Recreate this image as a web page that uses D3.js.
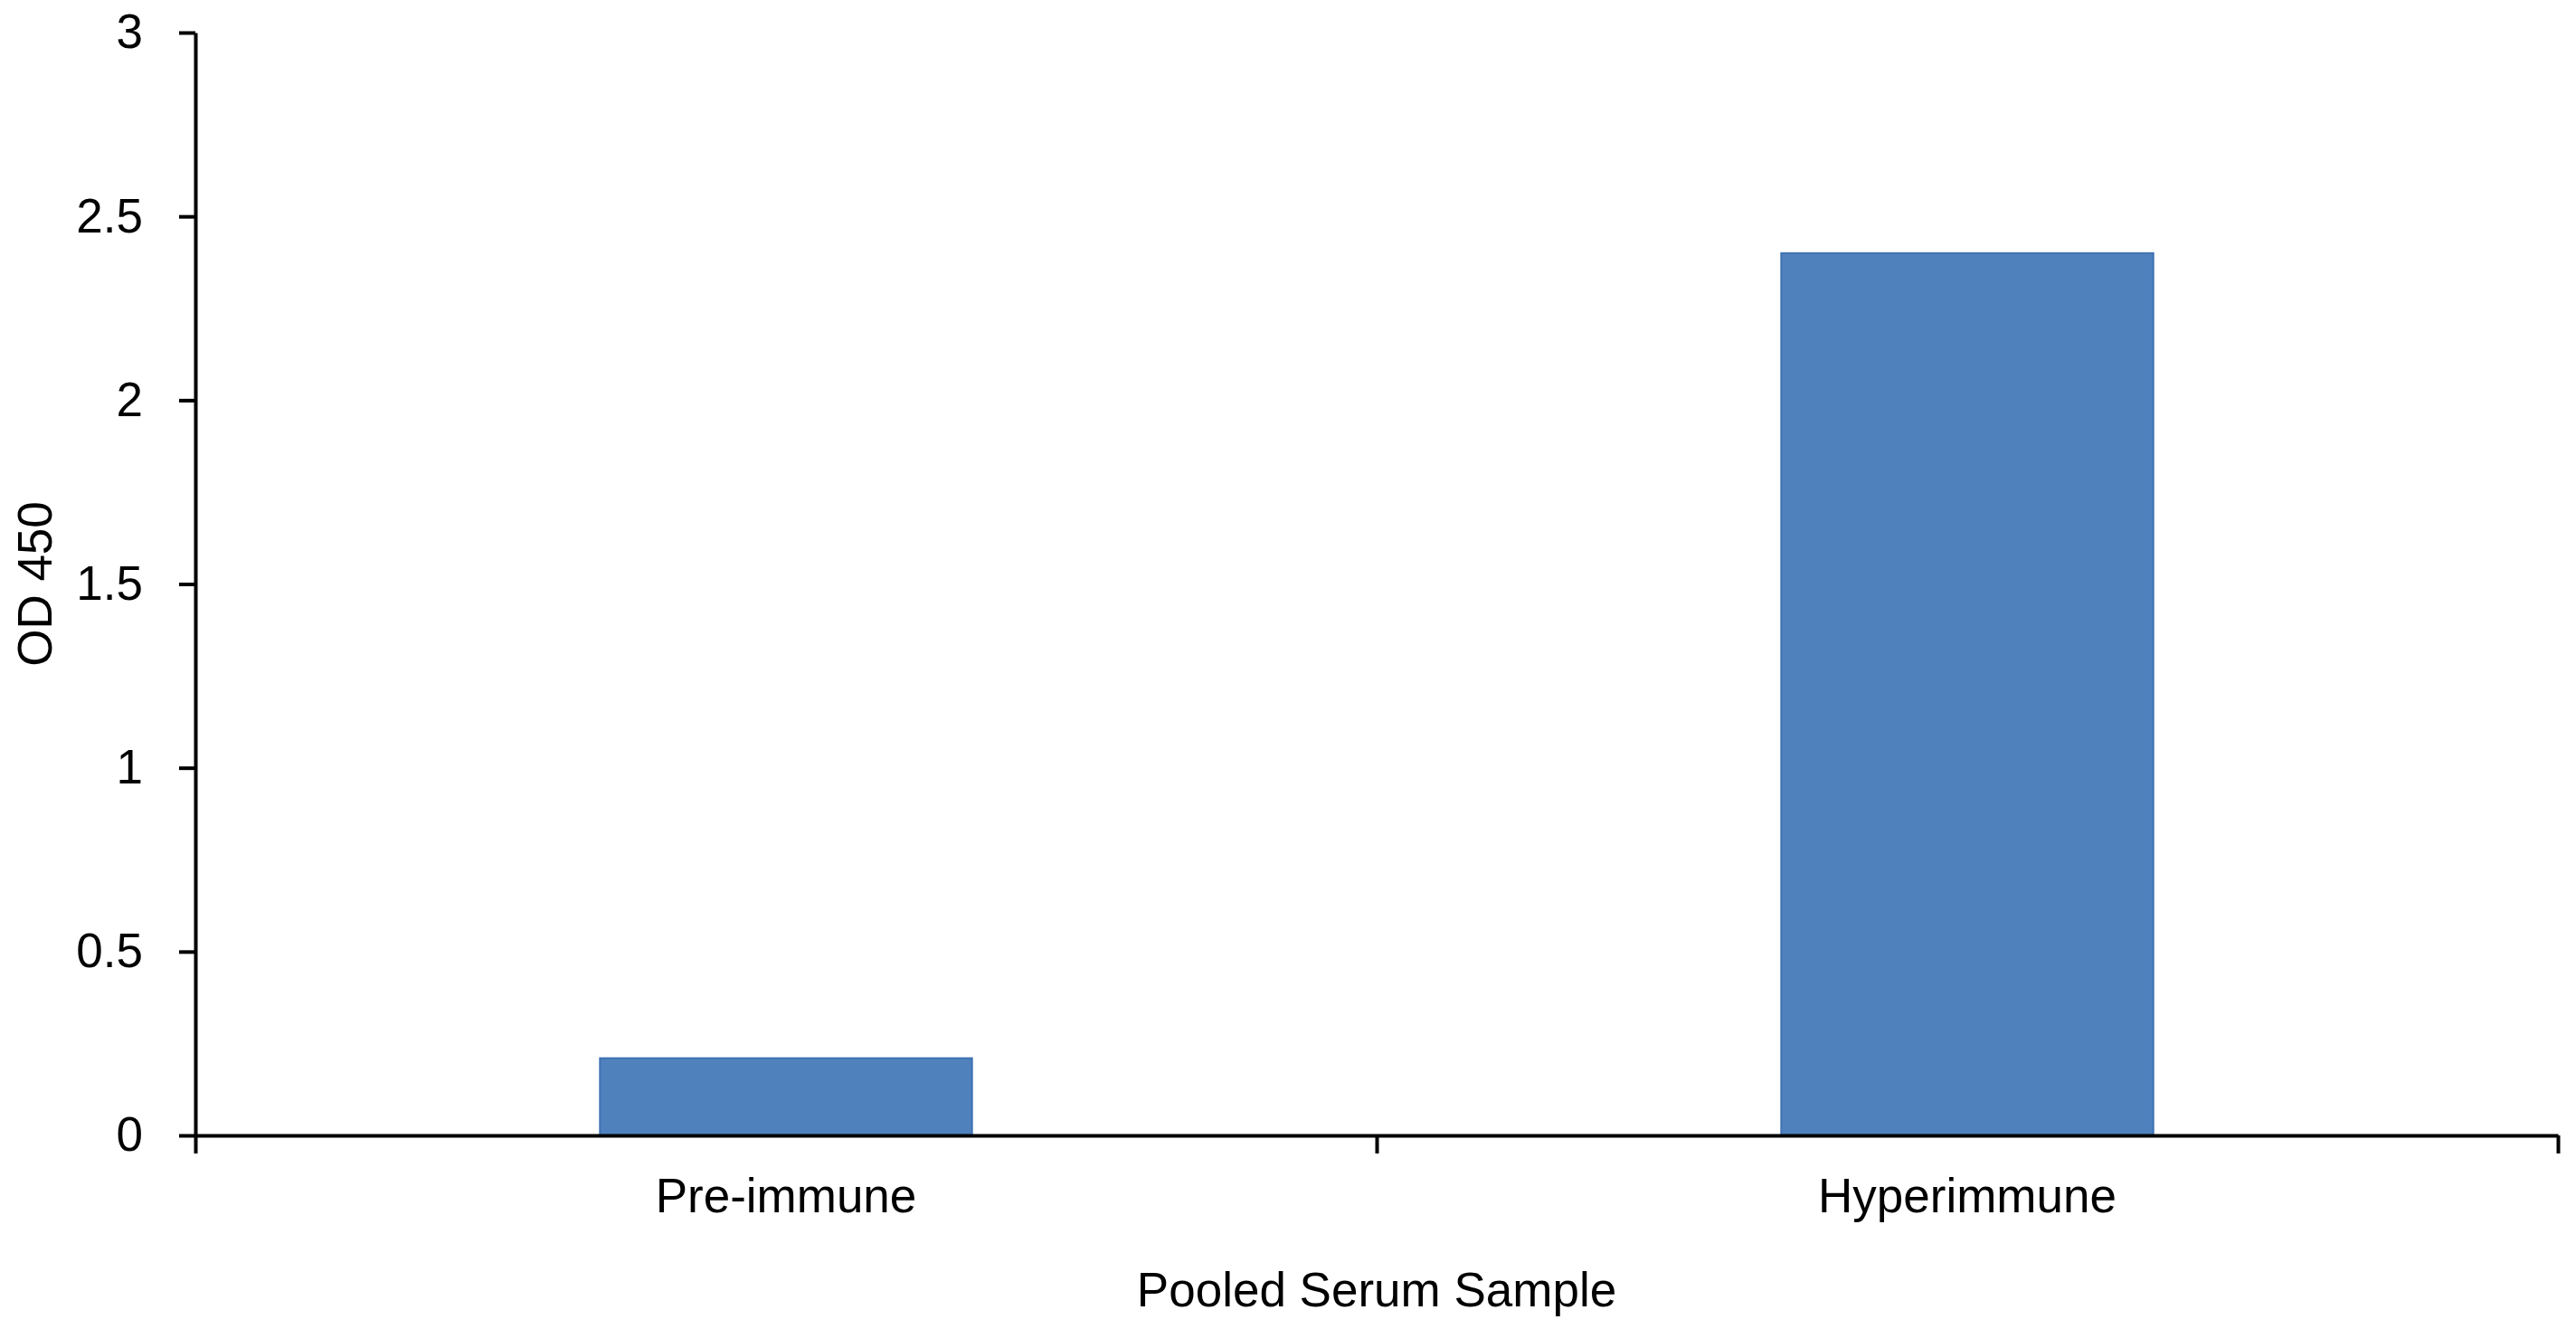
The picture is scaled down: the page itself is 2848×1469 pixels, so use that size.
<!DOCTYPE html>
<html>
<head>
<meta charset="utf-8">
<script src="https://cdn.jsdelivr.net/npm/d3@7"></script>
<style>
  body { margin: 0; background: #fff; }
  text { font-family: "Liberation Sans", Arial, sans-serif; fill: #000; }
</style>
</head>
<body>
<svg class="chart"></svg>
<script>
const categories = ["Pre-immune", "Hyperimmune"];
const odValues = [0.21, 2.40];
const yTicks = [0, 0.5, 1, 1.5, 2, 2.5, 3];
const xTitle = "Pooled Serum Sample";
const yTitle = "OD 450";

const width = 2848,
  height = 1469,
  plotLeft = 216,
  plotRight = 2828,
  plotTop = 36,
  plotBottom = 1255,
  fontSize = 53,
  barColour = "#4f81bd";

const svg = d3.select(".chart").attr("width", width).attr("height", height);

const x = d3
  .scaleBand()
  .domain(categories)
  .range([plotLeft, plotRight])
  .paddingInner(0.685)
  .paddingOuter(0.685 / 2);

// category borders for the tick marks
const xEdges = d3.scaleLinear().domain([0, categories.length]).range([plotLeft, plotRight]);

const y = d3.scaleLinear().domain([0, 3]).range([plotBottom, plotTop]);

// bars
svg
  .append("g")
  .selectAll("rect")
  .data(odValues)
  .join("rect")
  .attr("x", (d, i) => x(categories[i]))
  .attr("width", x.bandwidth())
  .attr("y", (d) => y(d))
  .attr("height", (d) => y(0) - y(d))
  .attr("fill", barColour)
  .attr("stroke", "#3f72b3")
  .attr("stroke-width", 2);

// y axis
const yAxis = svg
  .append("g")
  .attr("transform", `translate(${plotLeft},0)`)
  .call(
    d3
      .axisLeft(y)
      .tickValues(yTicks)
      .tickFormat((d) => String(d))
      .tickSize(18)
      .tickPadding(40)
      .tickSizeOuter(0)
  );
yAxis.selectAll("text").attr("font-size", fontSize).attr("font-family", null);
yAxis.selectAll("line, path").attr("stroke", "#000").attr("stroke-width", 4);

// x axis: boundary ticks
const xTickAxis = svg
  .append("g")
  .attr("transform", `translate(0,${plotBottom})`)
  .call(
    d3
      .axisBottom(xEdges)
      .tickValues(d3.range(categories.length + 1))
      .tickFormat("")
      .tickSize(20)
      .tickSizeOuter(0)
  );
xTickAxis.selectAll("line, path").attr("stroke", "#000").attr("stroke-width", 4);

// x axis: category labels
const xLabels = svg
  .append("g")
  .attr("transform", `translate(0,${plotBottom})`)
  .call(d3.axisBottom(x).tickSize(0).tickPadding(47));
xLabels.select(".domain").remove();
xLabels.selectAll("text").attr("font-size", fontSize).attr("font-family", null);

// axis titles
svg
  .append("text")
  .attr("x", (plotLeft + plotRight) / 2)
  .attr("y", 1444)
  .attr("text-anchor", "middle")
  .attr("font-size", fontSize)
  .text(xTitle);

svg
  .append("text")
  .attr("transform", `translate(57,${(plotTop + plotBottom) / 2}) rotate(-90)`)
  .attr("text-anchor", "middle")
  .attr("font-size", fontSize)
  .text(yTitle);
</script>
</body>
</html>
